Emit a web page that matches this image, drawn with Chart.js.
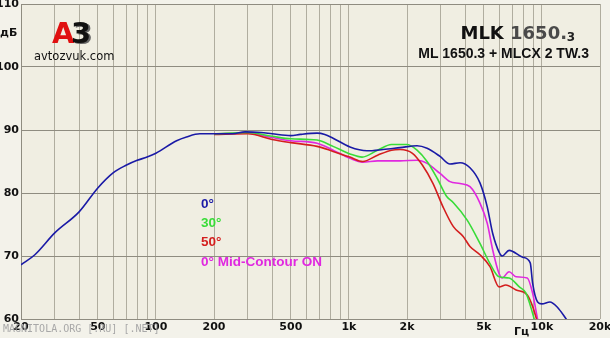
<!DOCTYPE html>
<html>
<head>
<meta charset="utf-8">
<script src="https://cdn.jsdelivr.net/npm/chart.js@4.4.1/dist/chart.umd.min.js"></script>
<style>
  body { margin: 0; background: #f3f2ea; }
  #myChart { display: block; }
</style>
</head>
<body>
<canvas id="myChart" width="610" height="338"></canvas>
<script>
// 周波数特性データ (Hz, dB)
var blueFreq = [20, 23.6, 30, 40, 50, 60, 70, 80, 90, 100, 128, 144, 169, 200, 250, 290, 350, 400, 500, 560, 684, 750, 828, 1013, 1241, 1503, 1841, 2254, 2541, 2967, 3340, 3767, 4240, 4776, 5209, 5556, 6000, 6221, 6760, 7950, 8700, 8950, 9500, 10000, 11000, 12000, 13500, 14500];
var blueDb   = [68.6, 70.2, 73.7, 77.0, 80.8, 83.2, 84.4, 85.2, 85.7, 86.3, 88.3, 88.9, 89.4, 89.4, 89.4, 89.7, 89.6, 89.4, 89.1, 89.3, 89.5, 89.3, 88.7, 87.3, 86.7, 86.9, 87.2, 87.5, 87.1, 85.8, 84.6, 84.8, 84.0, 81.6, 77.8, 73.6, 70.6, 70.0, 70.9, 69.8, 68.9, 65.7, 62.7, 62.4, 62.7, 61.9, 59.8, 58.5];

var greenFreq = [200, 300, 400, 500, 684, 828, 1013, 1170, 1408, 1663, 1993, 2254, 2541, 2870, 3220, 3470, 4100, 4776, 5383, 6000, 6760, 7640, 8270, 8950, 9300];
var greenDb   = [89.4, 89.6, 89.0, 88.6, 88.4, 87.4, 86.2, 85.7, 86.8, 87.7, 87.7, 86.8, 85.0, 82.3, 79.4, 78.5, 75.7, 72.0, 68.8, 66.7, 66.5, 65.1, 64.1, 60.9, 59.0];

var redFreq = [200, 300, 400, 500, 684, 828, 1013, 1180, 1408, 1663, 1841, 2135, 2406, 2729, 3073, 3470, 3910, 4240, 4776, 5383, 6000, 6500, 7350, 8400, 8950, 9420, 9700];
var redDb   = [89.3, 89.4, 88.5, 88.0, 87.4, 86.6, 85.7, 85.0, 86.0, 86.8, 86.9, 86.3, 84.4, 81.5, 77.8, 74.7, 73.1, 71.5, 70.2, 68.3, 65.1, 65.4, 64.6, 63.8, 62.0, 59.8, 58.5];

var magentaFreq = [200, 300, 400, 500, 684, 828, 1013, 1180, 1408, 1841, 2254, 2541, 2967, 3340, 3767, 4240, 4776, 5209, 5556, 6000, 6221, 6760, 7350, 8400, 8950, 9530, 9800];
var magentaDb   = [89.4, 89.5, 88.8, 88.3, 87.9, 86.8, 85.5, 84.9, 85.1, 85.1, 85.2, 84.7, 83.1, 81.8, 81.5, 81.0, 78.4, 75.2, 71.0, 67.2, 66.5, 67.5, 66.7, 66.5, 64.1, 59.8, 58.5];

// 目盛り
var xGridTicks = [20, 30, 40, 50, 60, 70, 80, 90, 100, 200, 300, 400, 500, 600, 700, 800, 900, 1000, 2000, 3000, 4000, 5000, 6000, 7000, 8000, 9000, 10000, 20000];
var xTickLabels = {20: '20', 50: '50', 100: '100', 200: '200', 500: '500', 1000: '1k', 2000: '2k', 5000: '5k', 10000: '10k', 20000: '20k'};
var yTicks = [60, 70, 80, 90, 100, 110];

var legendNames = ['0°', '30°', '50°', '0° Mid-Contour ON'];
var seriesColors = ['#1a1aa6', '#38dc38', '#d41e1e', '#e028e0'];

function points(freq, db) {
  return freq.map(function(f, i){ return {x: f, y: db[i]}; });
}

function ds(label, freq, db, color) {
  return {
    label: label,
    data: points(freq, db),
    borderColor: color,
    borderWidth: 1.6,
    pointRadius: 0,
    fill: false,
    cubicInterpolationMode: 'monotone'
  };
}

// 背景と文字
var decor = {
  id: 'decor',
  beforeDraw: function(chart) {
    var c = chart.ctx, a = chart.chartArea;
    c.save();
    c.fillStyle = '#f0eee2';
    c.fillRect(a.left, a.top, a.right - a.left, a.bottom - a.top);
    c.restore();
  },
  afterDraw: function(chart) {
    var c = chart.ctx;
    c.save();
    c.textBaseline = 'middle';
    // 軸名
    c.fillStyle = '#111';
    c.font = 'bold 11px "DejaVu Sans"';
    c.textAlign = 'left';
    c.fillText('дБ', 0, 33);
    c.fillText('Гц', 514, 332);
    // ロゴ
    c.font = 'bold 29px "DejaVu Sans"';
    c.fillStyle = '#e01010';
    c.fillText('A', 52, 35);
    c.fillStyle = '#666';
    c.fillText('3', 73, 36);
    c.fillStyle = '#111';
    c.fillText('3', 71, 35);
    c.font = '11.5px "DejaVu Sans"';
    c.fillText('avtozvuk.com', 34, 57);
    // タイトル
    c.textAlign = 'right';
    var w3 = 10;
    c.font = 'bold 12px "DejaVu Sans"';
    c.fillStyle = '#222';
    c.fillText('3', 575, 38);
    c.font = 'bold 18px "DejaVu Sans"';
    c.fillStyle = '#4a4a4a';
    c.fillText('1650.', 575 - w3 + 2, 34);
    var wNum = c.measureText('1650.').width;
    c.fillStyle = '#111';
    c.fillText('MLK ', 575 - w3 + 2 - wNum, 34);
    c.font = 'bold 14px "Liberation Sans"';
    c.fillText('ML 1650.3 + MLCX 2 TW.3', 589, 54);
    // 凡例
    c.textAlign = 'left';
    c.font = 'bold 13.5px "Liberation Sans"';
    legendNames.forEach(function(n, i){
      c.fillStyle = seriesColors[i];
      c.fillText(n, 201, 204 + i * 19.3);
    });
    // 透かし
    c.font = '10px "DejaVu Sans Mono"';
    c.fillStyle = '#a8a8a8';
    c.fillText('MAGNITOLA.ORG [.RU] [.NET]', 3, 329);
    c.restore();
  }
};

var ctx = document.getElementById('myChart').getContext('2d');
var myChart = new Chart(ctx, {
  type: 'line',
  data: {
    datasets: [
      ds(legendNames[0], blueFreq, blueDb, seriesColors[0]),
      ds(legendNames[1], greenFreq, greenDb, seriesColors[1]),
      ds(legendNames[2], redFreq, redDb, seriesColors[2]),
      ds(legendNames[3], magentaFreq, magentaDb, seriesColors[3])
    ]
  },
  options: {
    responsive: false,
    animation: false,
    layout: { padding: { top: 4, right: 10, left: 0, bottom: 0 } },
    plugins: { legend: { display: false }, title: { display: false }, tooltip: { enabled: false } },
    scales: {
      x: {
        type: 'logarithmic',
        min: 20,
        max: 20000,
        afterBuildTicks: function(scale) {
          scale.ticks = xGridTicks.map(function(v){ return {value: v}; });
        },
        afterFit: function(scale) { scale.height = 19; scale.paddingLeft = 0; scale.paddingRight = 0; },
        ticks: {
          autoSkip: false,
          maxRotation: 0,
          padding: 2,
          color: '#111',
          font: { family: 'DejaVu Sans', size: 11, weight: 'bold' },
          callback: function(v) { return xTickLabels[v] || ''; }
        },
        grid: { color: '#b0ad9f', lineWidth: 1, drawTicks: false },
        border: { display: false }
      },
      y: {
        min: 60,
        max: 110,
        afterBuildTicks: function(scale) {
          scale.ticks = yTicks.map(function(v){ return {value: v}; });
        },
        afterFit: function(scale) { scale.width = 21; scale.paddingTop = 0; scale.paddingBottom = 0; },
        ticks: {
          padding: 2,
          color: '#111',
          font: { family: 'DejaVu Sans', size: 11, weight: 'bold' }
        },
        grid: { color: '#8f8c80', lineWidth: 1, drawTicks: false },
        border: { display: true, color: '#8f8c80' }
      }
    }
  },
  plugins: [decor]
});
</script>
</body>
</html>
